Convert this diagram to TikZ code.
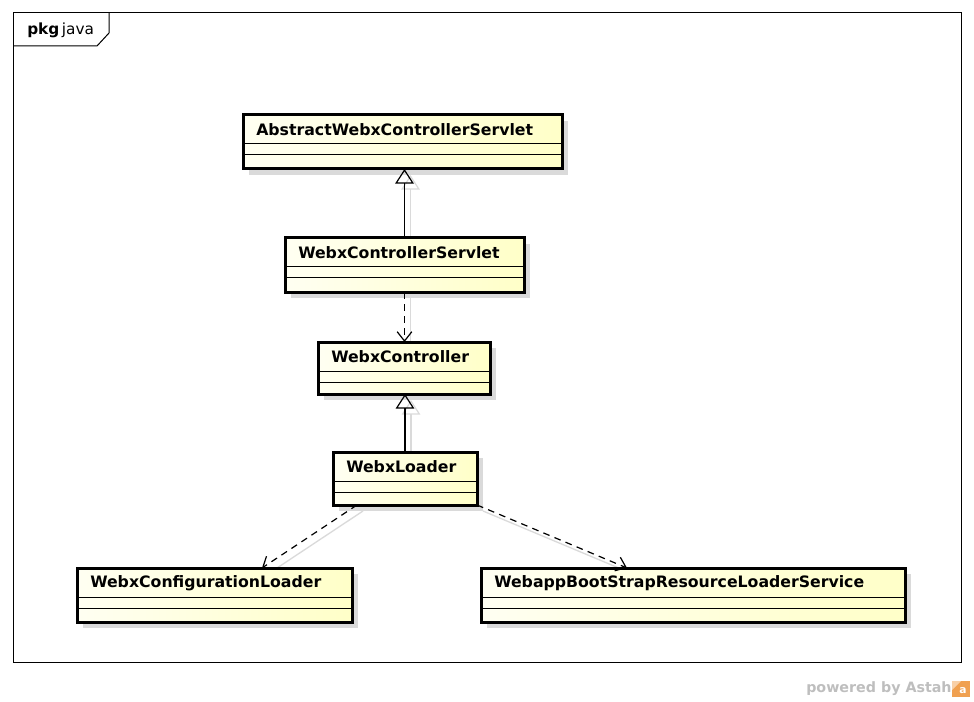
\documentclass[tikz,border=0pt]{standalone}
\usepackage{fontspec}
\setmainfont{DejaVu Sans}
\usetikzlibrary{arrows.meta,fit,calc,backgrounds}
\definecolor{clsL}{RGB}{255,255,242}
\definecolor{clsR}{RGB}{255,255,200}
\definecolor{shadowc}{RGB}{218,218,218}
\definecolor{astahgray}{RGB}{190,190,190}
\definecolor{astahorange}{RGB}{240,160,80}
\tikzset{
  cls/.style={draw=black, line width=2.25pt, left color=clsL, right color=clsR, inner sep=0pt, outer sep=0pt},
  compline/.style={line width=0.75pt},
  lbl/.style={font=\bfseries\fontsize{11.8}{13}\selectfont, anchor=west, inner sep=0pt},
  gen/.style={line width=0.9pt, -{Triangle[open, length=11pt, width=14pt, line width=0.9pt]}},
  dep/.style={line width=0.9pt, dash pattern=on 5pt off 4pt, -{Straight Barb[length=7pt, width=11pt, line width=0.9pt]}},
  conshadow/.style={draw=shadowc, line width=1pt, transform canvas={shift={(6,6)}}},
}
\newcommand\umlclass[6]{%
  \node[cls, fit={(#2,#3) (#4,#5)}] (#1) {};
  \draw[compline] ($(#1.north west)+(0,29)$) -- ($(#1.north east)+(0,29)$);
  \draw[compline] ($(#1.north west)+(0,40)$) -- ($(#1.north east)+(0,40)$);
  \node[lbl] (#1-name) at ($(#1.north west)+(13,15)$) {#6};
}
\begin{document}
\begin{tikzpicture}[x={(0.75pt,0)}, y={(0,-0.75pt)}]
\useasboundingbox (0,0) rectangle (974,702);
% frame
\draw[line width=0.75pt] (13,13) rectangle (961,662);
\draw[line width=0.75pt] (13,46) -- (97,46) -- (109,33) -- (109,13);
\node[anchor=west, inner sep=0pt, font=\fontsize{11.5}{13}\selectfont] (pkg) at (27,30) {\textbf{pkg}\,java};
% classes
\umlclass{awcs}{243}{115}{562}{169}{AbstractWebxControllerServlet}
\umlclass{wcs}{285}{238}{524}{292}{WebxControllerServlet}
\umlclass{wc}{318}{342}{490}{394}{WebxController}
\umlclass{wl}{333}{452}{477}{505}{WebxLoader}
\umlclass{wcl}{77}{568}{352}{622}{WebxConfigurationLoader}
\umlclass{wbs}{481}{568}{905}{622}{WebappBootStrapResourceLoaderService}
% shadows
\begin{scope}[on background layer]
  \foreach \n in {awcs,wcs,wc,wl,wcl,wbs}
    \fill[shadowc] ($(\n.north west)+(6,6)$) rectangle ($(\n.south east)+(6,6)$);
  \draw[conshadow, -{Triangle[open, length=11pt, width=14pt, line width=0.9pt]}] (wcs.north) -- (wcs.north |- awcs.south);
  \draw[conshadow] (wcs.south) -- (wcs.south |- wc.north);
  \draw[conshadow, -{Triangle[open, length=11pt, width=14pt, line width=0.9pt]}] (wl.north) -- (wl.north |- wc.south);
  \draw[conshadow] ($(wl.south west)+(24,0)$) -- ($(wcl.north west)+(185,0)$);
  \draw[conshadow] (wl.south east) -- ($(wbs.north west)+(146,0)$);
\end{scope}
% connectors
\draw[gen] (wcs.north) -- (wcs.north |- awcs.south);
\draw[dep] (wcs.south) -- (wcs.south |- wc.north);
\draw[gen] (wl.north) -- (wl.north |- wc.south);
\draw[dep] ($(wl.south west)+(24,0)$) -- ($(wcl.north west)+(185,0)$);
\draw[dep] (wl.south east) -- ($(wbs.north west)+(146,0)$);
% footer
\node[anchor=west, inner sep=0pt, text=astahgray, font=\bfseries\fontsize{10.7}{12}\selectfont] (powered) at (806,689) {powered by Astah};
\fill[astahorange] (952,681) rectangle (970,697);
\fill[astahorange!50] (952,681) -- (961,681) -- (952,690) -- cycle;
\node[inner sep=0pt, text=white, font=\bfseries\fontsize{8}{8}\selectfont] (logo) at (963,691) {a};
\end{tikzpicture}
\end{document}
